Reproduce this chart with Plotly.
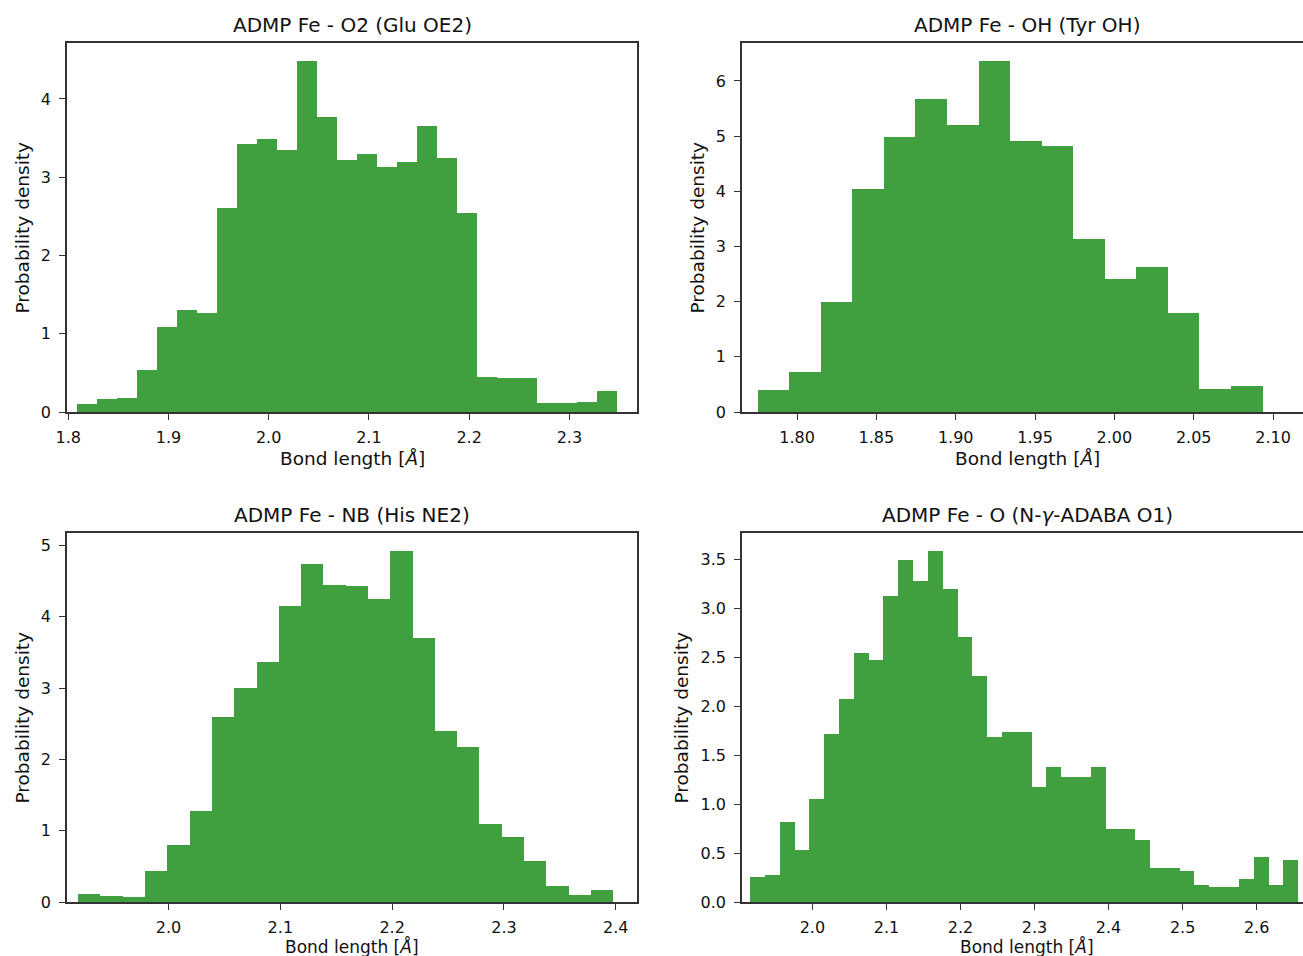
import numpy as np
import plotly.graph_objects as go

# ---------------- data ----------------
titles = [
    "ADMP Fe - O2 (Glu OE2)",
    "ADMP Fe - OH (Tyr OH)",
    "ADMP Fe - NB (His NE2)",
    "ADMP Fe - O (N-<i>γ</i>-ADABA O1)",
]
x_label = "Bond length [<i>Å</i>]"
y_label = "Probability density"

# histogram bin layout (first edge, bin width) and densities
glu_bin_start, glu_bin_width = 1.8083, 0.01996
glu_density = [0.106, 0.16, 0.18, 0.54, 1.085, 1.30, 1.26, 2.61, 3.43, 3.485,
               3.35, 4.49, 3.77, 3.22, 3.29, 3.13, 3.20, 3.66, 3.24, 2.54,
               0.45, 0.44, 0.44, 0.12, 0.115, 0.13, 0.27]

tyr_bin_start, tyr_bin_width = 1.7752, 0.01989
tyr_density = [0.40, 0.72, 2.00, 4.04, 4.98, 5.68, 5.20, 6.37, 4.91, 4.82,
               3.13, 2.41, 2.62, 1.79, 0.42, 0.48]

his_bin_start, his_bin_width = 1.9192, 0.01994
his_density = [0.107, 0.084, 0.07, 0.44, 0.80, 1.27, 2.60, 3.00, 3.37, 4.15,
               4.74, 4.45, 4.43, 4.25, 4.93, 3.71, 2.40, 2.18, 1.10, 0.906,
               0.58, 0.23, 0.10, 0.17]

adaba_bin_start, adaba_bin_width = 1.916, 0.0200
adaba_density = [0.258, 0.276, 0.816, 0.534, 1.054, 1.714, 2.075, 2.54, 2.47, 3.13,
                 3.49, 3.28, 3.59, 3.20, 2.71, 2.31, 1.69, 1.735, 1.735, 1.17,
                 1.377, 1.275, 1.275, 1.38, 0.745, 0.748, 0.633, 0.347, 0.347, 0.32,
                 0.17, 0.153, 0.153, 0.238, 0.456, 0.173, 0.432]

x_ranges = [[1.7988, 2.3675], [1.7653, 2.1189], [1.9092, 2.4190], [1.9049, 2.6626]]
x_tick_step = [0.1, 0.05, 0.1, 0.1]
x_tick_fmt = [".1f", ".2f", ".1f", ".1f"]
y_tick_step = [1, 1, 1, 0.5]
y_tick_fmt = ["d", "d", "d", ".1f"]

# ---------------- layout constants ----------------
W, H = 1303, 956
BAR_COLOR = "rgb(64,160,64)"
SPINE = "#333333"
TXT = "#111111"
FONT = "DejaVu Sans"

# panel boxes in pixels: (left, right, top, bottom)
boxes = [(67, 637, 43, 412), (742, 1303, 43, 412),
         (67, 637, 533, 902), (742, 1303, 533, 902)]
title_cx = [352, 1027, 352, 1027]
ylab_cx = [22, 697, 22, 681]
xlab_cy = [458, 458, 946, 946]
xlab_size = [18.5, 18.5, 17, 17]
show_right = [True, False, True, False]

series = [
    (glu_bin_start, glu_bin_width, glu_density),
    (tyr_bin_start, tyr_bin_width, tyr_density),
    (his_bin_start, his_bin_width, his_density),
    (adaba_bin_start, adaba_bin_width, adaba_density),
]

fig = go.Figure()
annotations = []
for i, ((start, width, dens), (l, r, t, b)) in enumerate(zip(series, boxes)):
    n = i + 1
    xa = "x" if n == 1 else f"x{n}"
    ya = "y" if n == 1 else f"y{n}"
    edges = start + width * np.arange(len(dens))
    fig.add_trace(go.Bar(
        x=edges, y=dens, width=[width] * len(dens), offset=0,
        marker=dict(color=BAR_COLOR, line=dict(width=0)),
        xaxis=xa, yaxis=ya, showlegend=False, hoverinfo="x+y",
    ))
    ymax = max(dens) * 1.05
    dom_x = [l / W, r / W]
    dom_y = [1 - b / H, 1 - t / H]
    xkey = "xaxis" if n == 1 else f"xaxis{n}"
    ykey = "yaxis" if n == 1 else f"yaxis{n}"
    fig.layout[xkey] = dict(
        domain=dom_x, anchor=ya, range=x_ranges[i], automargin=False,
        showline=True, mirror=True, linecolor=SPINE, linewidth=1.5,
        showgrid=False, zeroline=False,
        ticks="outside", ticklen=6, tickwidth=1.3, tickcolor=SPINE,
        tick0=0, dtick=x_tick_step[i], tickformat=x_tick_fmt[i],
        tickfont=dict(family=FONT, size=16, color=TXT),
        ticklabelstandoff=4,
    )
    fig.layout[ykey] = dict(
        domain=dom_y, anchor=xa, range=[0, ymax], automargin=False,
        showline=True, mirror=show_right[i], linecolor=SPINE, linewidth=1.5,
        showgrid=False, zeroline=False,
        ticks="outside", ticklen=6, tickwidth=1.3, tickcolor=SPINE,
        tick0=0, dtick=y_tick_step[i], tickformat=y_tick_fmt[i],
        tickfont=dict(family=FONT, size=16, color=TXT),
        ticklabelstandoff=5,
    )
    # panel title
    annotations.append(dict(
        text=titles[i], xref="paper", yref="paper",
        x=title_cx[i] / W, y=1 - t / H, xanchor="center", yanchor="bottom",
        yshift=4, showarrow=False, font=dict(family=FONT, size=20, color=TXT),
    ))
    # x axis label
    annotations.append(dict(
        text=x_label, xref="paper", yref="paper",
        x=title_cx[i] / W, y=1 - xlab_cy[i] / H, xanchor="center", yanchor="middle",
        showarrow=False, borderpad=0,
        font=dict(family=FONT, size=xlab_size[i], color=TXT),
    ))
    # y axis label
    annotations.append(dict(
        text=y_label, xref="paper", yref="paper", textangle=-90,
        x=ylab_cx[i] / W, y=1 - (t + b) / 2 / H, xanchor="center", yanchor="middle",
        showarrow=False, font=dict(family=FONT, size=18.5, color=TXT),
    ))

fig.update_layout(
    width=W, height=H,
    margin=dict(l=0, r=0, t=0, b=0, pad=0, autoexpand=False),
    paper_bgcolor="white", plot_bgcolor="white",
    font=dict(family=FONT, color=TXT),
    annotations=annotations,
    bargap=0,
)

fig.write_html(
    "out.html",
    config={"displayModeBar": False},
    post_script="document.body.style.margin='0';document.body.style.padding='0';"
                "document.body.style.overflow='hidden';",
)
